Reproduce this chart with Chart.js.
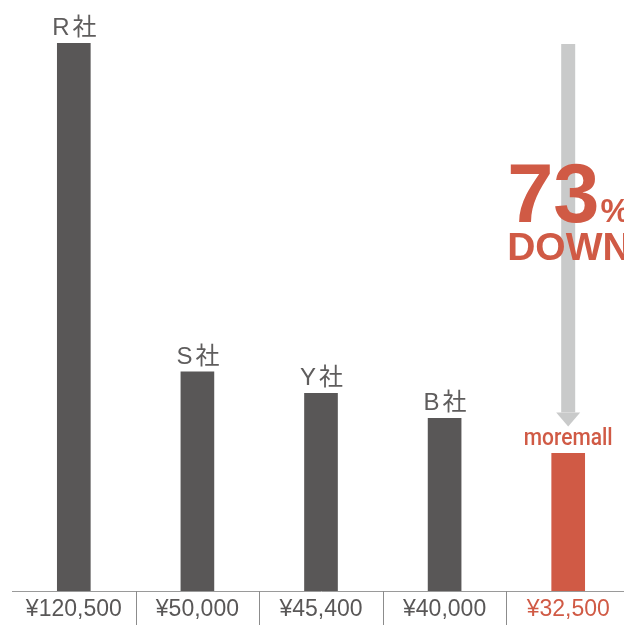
<!DOCTYPE html>
<html>
<head>
<meta charset="utf-8">
<script src="https://cdn.jsdelivr.net/npm/chart.js@4"></script>
<style>
  html,body{margin:0;padding:0;background:#fff;overflow:hidden}
  #wrap{width:640px;height:625px;position:relative}
</style>
</head>
<body>
<div id="wrap"><canvas id="priceChart"></canvas></div>
<script>
'use strict';
const companies = ['R社','S社','Y社','B社','moremall'];
const prices = [120500, 50000, 45400, 40000, 32500];
const priceLabels = ['¥120,500','¥50,000','¥45,400','¥40,000','¥32,500'];
const dropText = ['73', '%', 'DOWN'];

const GRAY = '#595757', RED = '#d05a45', ARROW = '#c9caca';
const barColors = companies.map((c,i) => i === companies.length-1 ? RED : GRAY);
const JP = "'Liberation Sans','Noto Sans CJK JP',sans-serif";

// company names above bars, moremall logo, separators, arrow and 73% DOWN
const decor = {
  id:'decor',
  afterDatasetsDraw(chart){
    const {ctx, chartArea, scales:{x,y}} = chart;
    const bars = chart.getDatasetMeta(0).data;
    const last = bars.length-1;
    ctx.save();
    // separators below the axis
    ctx.strokeStyle = '#8c8c8c'; ctx.lineWidth = 1;
    for(let i=1;i<bars.length;i++){
      const px = Math.round(x.getPixelForValue(i-0.5))+0.5;
      ctx.beginPath(); ctx.moveTo(px, chartArea.bottom); ctx.lineTo(px, chart.height); ctx.stroke();
    }
    // names
    ctx.fillStyle = '#5f5d5d'; ctx.font = `24px ${JP}`; ctx.textAlign = 'center'; ctx.textBaseline = 'alphabetic';
    ctx.letterSpacing = '3px';
    bars.forEach((b,i) => { if(i<last) ctx.fillText(companies[i], b.x+2, b.y-8); });
    ctx.letterSpacing = '0px';
    // moremall logo
    const mb = bars[last];
    ctx.fillStyle = RED; ctx.font = `500 25px Roboto,sans-serif`;
    const w = ctx.measureText(companies[last]).width;
    ctx.save(); ctx.translate(mb.x, mb.y-8); ctx.scale(89/w, 0.92);
    ctx.fillText(companies[last], 0, 0); ctx.restore();
    // arrow
    const ax = mb.x, top = y.getPixelForValue(prices[0])+1, headTop = mb.y-41, tip = mb.y-27;
    ctx.fillStyle = ARROW;
    ctx.fillRect(ax-7, top, 14, headTop-top);
    ctx.beginPath(); ctx.moveTo(ax-12, headTop); ctx.lineTo(ax+12, headTop); ctx.lineTo(ax, tip); ctx.closePath(); ctx.fill();
    // 73% DOWN
    ctx.fillStyle = RED; ctx.textAlign = 'left';
    const tx = ax-61;
    ctx.font = "bold 83px 'Liberation Sans',Arial,sans-serif";
    ctx.fillText(dropText[0], tx, 222);
    const w73 = ctx.measureText(dropText[0]).width;
    ctx.font = "bold 33px 'Liberation Sans',Arial,sans-serif";
    ctx.fillText(dropText[1], tx+w73+1, 222);
    ctx.font = "bold 39px 'Liberation Sans',Arial,sans-serif";
    ctx.fillText(dropText[2], tx, 260);
    ctx.restore();
  }
};

new Chart(document.getElementById('priceChart'), {
  type:'bar',
  data:{ labels: priceLabels, datasets:[{ data: prices, backgroundColor: barColors, barThickness: 33 }] },
  options:{
    responsive:true, maintainAspectRatio:false, animation:false,
    layout:{ padding:{ top:43, left:12, right:10, bottom:0 } },
    plugins:{ legend:{display:false}, tooltip:{enabled:false} },
    scales:{
      x:{
        grid:{ display:false, drawTicks:false },
        border:{ display:true, color:'#9a9a9a', width:1 },
        ticks:{
          padding:5,
          color: c => c.index === priceLabels.length-1 ? RED : GRAY,
          font:{ family:"'Liberation Sans',sans-serif", size:23 }
        },
        afterFit(s){ s.height = 34; }
      },
      y:{ display:false, min:3000, max:120500 }
    }
  },
  plugins:[decor]
});
</script>
</body>
</html>
